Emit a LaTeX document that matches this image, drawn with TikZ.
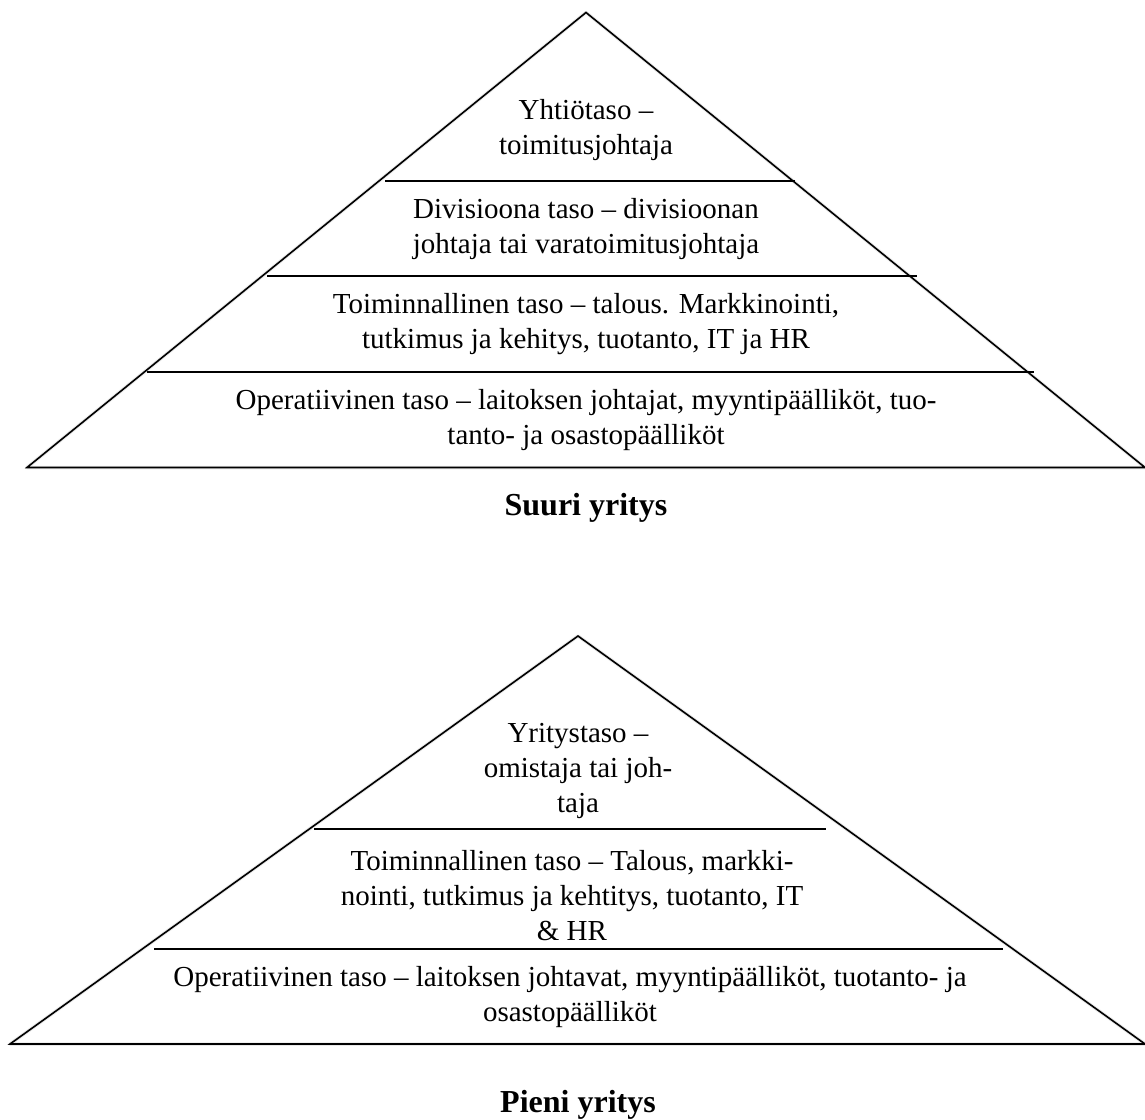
\documentclass[tikz,border=0pt]{standalone}
\usepackage{fontspec}
\setmainfont{Liberation Serif}
\begin{document}
\begin{tikzpicture}[x=1pt,y=-1pt,
  edge/.style={line width=1.6pt, line join=miter},
  level/.style={line width=2.6pt},
  shade/.style={gray!18, line width=3.5pt, line join=round},
  lbl/.style={align=center, inner sep=0pt, font=\fontsize{29}{35}\selectfont},
  caption/.style={inner sep=0pt, font=\fontsize{32}{38}\selectfont\bfseries}]
\useasboundingbox (0,0) rectangle (1145,1119);

% corners of the two pyramids
\coordinate (ta) at (586,12.5);
\coordinate (tl) at (27,467.5);
\coordinate (tr) at (1145,467.5);
\coordinate (ba) at (578,636);
\coordinate (bl) at (10,1044);
\coordinate (br) at (1145,1044);

% soft shadow under the outlines
\draw[shade, shift={(2.5,3)}] (tl) -- (ta) -- (tr) -- cycle;
\draw[shade, shift={(2.5,3)}] (bl) -- (ba) -- (br) -- cycle;

% large company pyramid
\draw[edge] (tl) -- (ta) -- (tr) -- cycle;
\draw[level] (385,181) -- (795,181);
\draw[level] (267,276) -- (917,276);
\draw[level] (147,372) -- (1034,372);

\node[lbl] (t1) at (586,130) {Yhtiötaso –\\toimitusjohtaja};
\node[lbl] (t2) at (586,229) {Divisioona taso – divisioonan\\johtaja tai varatoimitusjohtaja};
\node[lbl] (t3) at (586,324) {Toiminnallinen taso – talous. Markkinointi,\\tutkimus ja kehitys, tuotanto, IT ja HR};
\node[lbl] (t4) at (586,420) {Operatiivinen taso – laitoksen johtajat, myyntipäälliköt, tuo-\\tanto- ja osastopäälliköt};
\node[caption] (tc) at (586,508) {Suuri yritys};

% small company pyramid
\draw[edge] (bl) -- (ba) -- (br) -- cycle;
\draw[level] (314,829) -- (826,829);
\draw[level] (154,949) -- (1003,949);

\node[lbl] (b1) at (578,771) {Yritystaso –\\omistaja tai joh-\\taja};
\node[lbl] (b2) at (572,896) {Toiminnallinen taso – Talous, markki-\\nointi, tutkimus ja kehtitys, tuotanto, IT\\\& HR};
\node[lbl] (b3) at (570,997) {Operatiivinen taso – laitoksen johtavat, myyntipäälliköt, tuotanto- ja\\osastopäälliköt};
\node[caption] (bc) at (578,1105) {Pieni yritys};
\end{tikzpicture}
\end{document}
